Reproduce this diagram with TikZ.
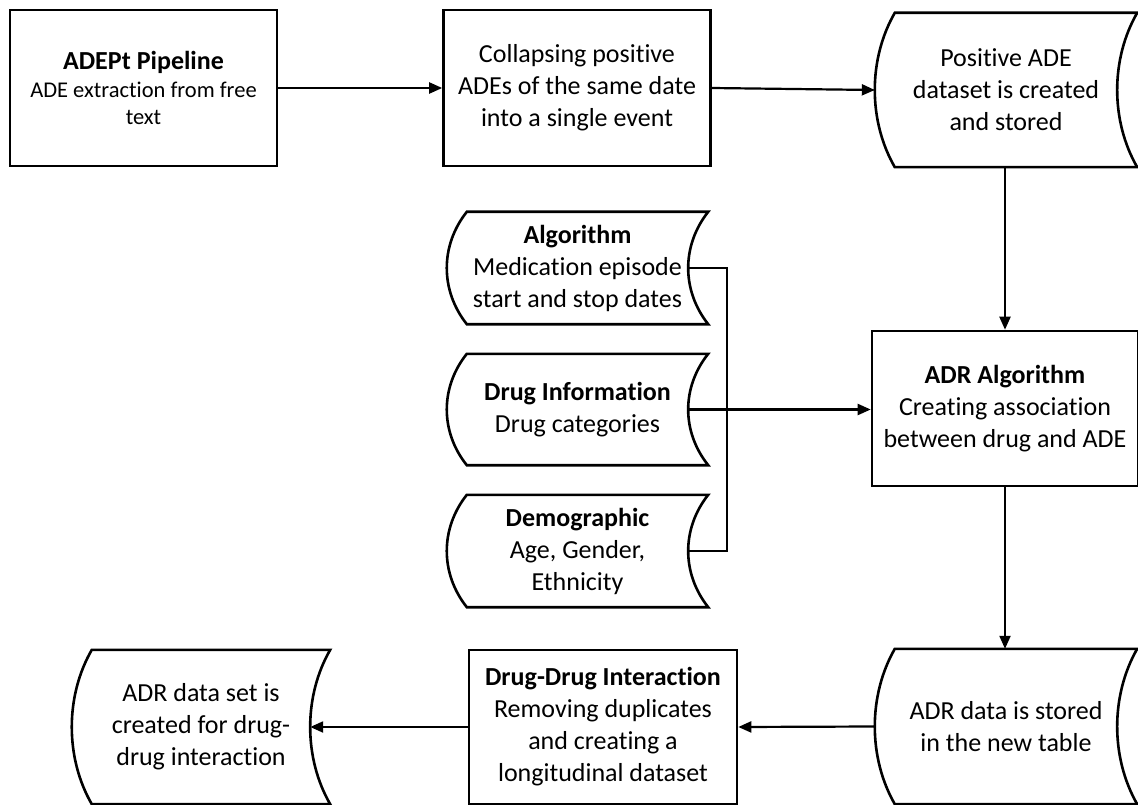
\documentclass[tikz,border=0pt]{standalone}
\usepackage{fontspec}
\setmainfont{Carlito}[Ligatures=NoCommon]
\usetikzlibrary{arrows.meta,calc}

\newcommand\smalltxt[1]{{\fontsize{22.5}{27.5}\selectfont #1}}

\tikzset{
  lbl/.style={align=center, inner sep=0pt, font=\fontsize{26}{32}\selectfont},
  procbox/.style={lbl, draw, line width=2.6pt, minimum width=267pt, minimum height=155pt},
  storebox/.style={lbl, draw=none, minimum height=154pt},
  storeline/.style={draw, line width=2.6pt, line join=miter},
  conn/.style={line width=2.2pt},
  arrow/.style={conn, -{Triangle[length=13pt,width=11pt]}}
}

% Outline of a "stored data" symbol around a node: convex left side, concave right side
\newcommand\storeoutline[1]{%
  \draw[storeline]
    ([xshift=20pt]#1.north west)
      .. controls ($(#1.north west)!0.3!(#1.south west)+(-6.7pt,0)$)
             and ($(#1.north west)!0.7!(#1.south west)+(-6.7pt,0)$)
      .. ([xshift=20pt]#1.south west)
    -- (#1.south east)
      .. controls ($(#1.north east)!0.7!(#1.south east)+(-26.7pt,0)$)
             and ($(#1.north east)!0.3!(#1.south east)+(-26.7pt,0)$)
      .. (#1.north east)
    -- cycle;}

\begin{document}
\begin{tikzpicture}[x=1pt, y=-1pt]
  \useasboundingbox (0,0) rectangle (1138,805);

  % process boxes
  \node[procbox, minimum height=156pt] (adept) at (143.5,88)
    {\textbf{ADEPt Pipeline}\\[-4pt]\smalltxt{ADE extraction from free}\\[-4.5pt]\smalltxt{text}};
  \node[procbox, minimum height=156pt] (coll) at (577,88)
    {Collapsing positive\\ADEs of the same date\\into a single event};
  \node[procbox, minimum width=266pt] (adralg) at (1005,408.5)
    {\textbf{ADR Algorithm}\\Creating association\\between drug and ADE};
  \node[procbox, minimum width=268pt, minimum height=154pt] (ddi) at (603,727)
    {\textbf{Drug-Drug Interaction}\\Removing duplicates\\and creating a\\longitudinal dataset};

  % stored data symbols
  \node[storebox, minimum width=262pt] (pos) at (1006,90)
    {Positive ADE\\dataset is created\\and stored};
  \node[storebox, minimum width=262pt, minimum height=155pt] (adrstore) at (1006,726.5)
    {ADR data is stored\\in the new table};
  \node[storebox, minimum width=258pt] (adrset) at (201,727)
    {ADR data set is\\created for drug-\\drug interaction};
  \node[storebox, minimum width=261pt, minimum height=112pt] (algo) at (577.5,268)
    {\textbf{Algorithm}\\Medication episode\\start and stop dates};
  \node[storebox, minimum width=261pt, minimum height=111pt] (druginfo) at (577.5,409.5)
    {\textbf{Drug Information}\\Drug categories};
  \node[storebox, minimum width=261pt, minimum height=112pt] (demo) at (577.5,551)
    {\textbf{Demographic}\\Age, Gender,\\Ethnicity};

  \foreach \n in {pos,adrstore,adrset,algo,druginfo,demo} {\storeoutline{\n}}

  % connectors
  \draw[arrow] (adept.east) -- (coll.west);
  \draw[arrow] (coll.east) -- (pos.west);
  \draw[arrow] (adralg.north |- pos.south) -- (adralg.north);
  \draw[arrow] (adralg.south) -- (adralg.south |- adrstore.north);
  \draw[arrow] (adrstore.west) -- (ddi.east);
  \draw[arrow] (ddi.west) -- ([xshift=-20pt]adrset.east);

  % inputs gathered on a common bus
  \coordinate (bus) at (727,409.5);
  \draw[conn] ([xshift=-20pt]algo.east) -| (bus) |- ([xshift=-20pt]demo.east);
  \draw[arrow] ([xshift=-20pt]druginfo.east) -- (druginfo.east -| adralg.west);
\end{tikzpicture}
\end{document}
